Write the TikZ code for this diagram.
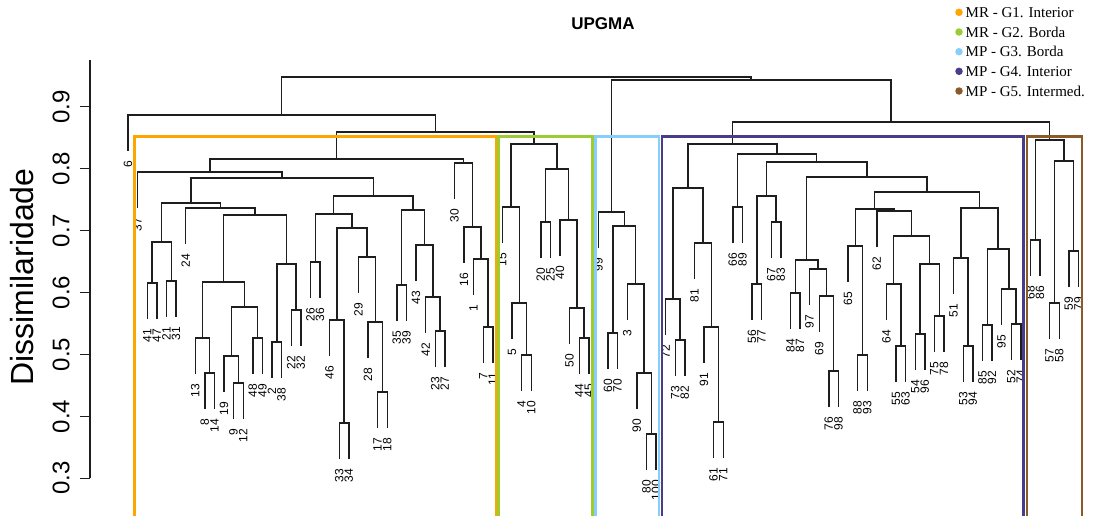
\documentclass[tikz,border=0pt]{standalone}
\usepackage{fontspec}
\setmainfont{Liberation Serif}
\setsansfont{Liberation Sans}
\usetikzlibrary{calc}
\definecolor{GOrange}{RGB}{255,165,0}
\definecolor{GGreen}{RGB}{154,205,50}
\definecolor{GBlue}{RGB}{135,206,250}
\definecolor{GPurple}{RGB}{72,61,139}
\definecolor{GBrown}{RGB}{139,90,43}
\definecolor{TreeGray}{RGB}{30,30,30}
\tikzset{
  branch/.style={draw=TreeGray,line width=1.4pt},
  leaflab/.style={rotate=90,anchor=east,inner sep=0pt,
    font=\sffamily\fontsize{12}{12}\selectfont},
  ticklab/.style={rotate=90,inner sep=0pt,
    font=\sffamily\fontsize{24}{24}\selectfont},
  axislab/.style={rotate=90,inner sep=0pt,
    font=\sffamily\fontsize{32}{32}\selectfont},
  groupbox/.style={line width=2.2pt},
  legdot/.style={circle,inner sep=0pt,minimum size=7.5pt},
  legtext/.style={anchor=west,inner sep=0pt,font=\fontsize{15}{15}\selectfont}
}
\newcommand\mrg[4]{%
  \coordinate (h#3) at (0,#4);
  \path (#1) -- (#2) coordinate[pos=.5] (c#3);
  \coordinate (#3) at (c#3 |- h#3);
  \draw[branch] (#1) |- (#3) -| (#2);}

\begin{document}
\begin{tikzpicture}[x=1pt,y=-1pt]
  \useasboundingbox[fill=white] (0,0) rectangle (1094,515);
  \node[font=\sffamily\bfseries\fontsize{17}{17}\selectfont] (title) at (603,24) {UPGMA};
  \node[axislab] (ylab) at (22.5,277) {Dissimilaridade};
  \draw[branch] (90,60) -- (90,478.3);
  \foreach \k/\v/\yy in {3/0.3/478.3,4/0.4/416.4,5/0.5/354.4,6/0.6/292.5,
      7/0.7/230.6,8/0.8/168.6,9/0.9/106.7} {
    \draw[branch] (90,\yy) -- (80,\yy);
    \node[ticklab] (tk\k) at (61,\yy) {\v};
  }
  \foreach \i/\lab/\py in {
      0/6/115, 1/37/172, 2/41/283, 3/47/283, 4/21/281, 5/31/281, 6/24/208,
      7/13/338, 8/8/373, 9/14/373, 10/19/356, 11/9/383, 12/12/383, 13/48/338,
      14/49/338, 15/2/342, 16/38/342, 17/22/310, 18/32/310, 19/26/262,
      20/36/262, 21/46/320, 22/33/423, 23/34/423, 24/29/257, 25/28/322,
      26/17/392, 27/18/392, 28/35/285, 29/39/285, 30/43/245, 31/42/297,
      32/23/331, 33/27/331, 34/30/163, 35/16/227, 36/1/259, 37/7/327,
      38/11/327, 39/15/207, 40/5/303, 41/4/355, 42/10/355, 43/20/222,
      44/25/222, 45/40/220, 46/50/308, 47/44/338, 48/45/338, 49/99/212,
      50/60/333, 51/70/333, 52/3/284, 53/90/373, 54/80/434, 55/100/434,
      56/72/299, 57/73/340, 58/82/340, 59/81/243, 60/91/327, 61/61/422,
      62/71/422, 63/66/207, 64/89/207, 65/56/284, 66/77/284, 67/67/222,
      68/83/222, 69/84/293, 70/87/293, 71/97/269, 72/69/296, 73/76/371,
      74/98/371, 75/65/246, 76/88/355, 77/93/355, 78/62/211, 79/64/284,
      80/55/346, 81/63/346, 82/54/334, 83/96/334, 84/75/316, 85/78/316,
      86/51/258, 87/53/346, 88/94/346, 89/85/325, 90/92/325, 91/95/289,
      92/52/324, 93/74/324, 94/68/240, 95/86/240, 96/57/303, 97/58/303,
      98/59/251, 99/79/251} {
    \coordinate (l\lab) at ({128+9.6*\i},{\py+36});
    \node[leaflab] (t\lab) at ([yshift=-10pt]l\lab) {\lab};
  }
  \foreach \pa/\pb/\pn/\ph in {
      l41/l47/m1/283, l21/l31/m2/281, m1/m2/m3/242, l8/l14/m4/373,
      l13/m4/m5/338, l9/l12/m6/383, l19/m6/m7/356, l48/l49/m8/338,
      m7/m8/m9/307, m5/m9/m10/282, l2/l38/m11/342, l22/l32/m12/310,
      m11/m12/m13/264, m10/m13/m14/215, l24/m14/m15/208, m3/m15/m16/203,
      l26/l36/m17/262, l33/l34/m18/423, l46/m18/m19/320, l17/l18/m20/392,
      l28/m20/m21/322, l29/m21/m22/257, m19/m22/m23/228, m17/m23/m24/214,
      l35/l39/m25/285, l23/l27/m26/331, l42/m26/m27/297, l43/m27/m28/245,
      m25/m28/m29/210, m24/m29/m30/196, m16/m30/m31/178, l37/m31/m32/172,
      l7/l11/m33/327, l1/m33/m34/259, l16/m34/m35/227, l30/m35/m36/163,
      m32/m36/m37/159,
      l4/l10/m38/355, l5/m38/m39/303, l15/m39/m40/207, l20/l25/m41/222,
      l44/l45/m42/338, l50/m42/m43/308, l40/m43/m44/220, m41/m44/m45/169,
      m40/m45/m46/144, m37/m46/m47/132, l6/m47/m48/115,
      l60/l70/m49/333, l80/l100/m50/434, l90/m50/m51/373, l3/m51/m52/284,
      m49/m52/m53/226, l99/m53/m54/212,
      l73/l82/m55/340, l72/m55/m56/299, l61/l71/m57/422, l91/m57/m58/327,
      l81/m58/m59/243, m56/m59/m60/188, l66/l89/m61/207, l56/l77/m62/284,
      l67/l83/m63/222, m62/m63/m64/196, l84/l87/m65/293, l76/l98/m66/371,
      l69/m66/m67/296, l97/m67/m68/269, m65/m68/m69/260, l88/l93/m70/355,
      l65/m70/m71/246, l55/l63/m72/346, l64/m72/m73/284, l54/l96/m74/334,
      l75/l78/m75/316, m74/m75/m76/264, m73/m76/m77/236, l62/m77/m78/211,
      m71/m78/m79/209, l53/l94/m80/346, l51/m80/m81/258, l85/l92/m82/325,
      l52/l74/m83/324, l95/m83/m84/289, m82/m84/m85/249, m81/m85/m86/208,
      m79/m86/m87/192, m69/m87/m88/177, m64/m88/m89/162, m61/m89/m90/154,
      m60/m90/m91/144,
      l68/l86/m92/240, l57/l58/m93/303, l59/l79/m94/251, m93/m94/m95/161,
      m92/m95/m96/140, m91/m96/m97/122, m54/m97/m98/80, m48/m98/m99/77} {
    \mrg{\pa}{\pb}{\pn}{\ph}
  }
  \draw[groupbox,GOrange,line width=2.6pt] (134.3,136.5) rectangle (496,530);
  \draw[groupbox,GGreen] (498.5,136.5) rectangle (592.5,530);
  \draw[groupbox,GBlue] (595.5,136.5) rectangle (659.3,530);
  \draw[groupbox,GPurple] (662.3,136.5) rectangle (1023.5,530);
  \draw[groupbox,GBrown] (1026.8,136.5) rectangle (1082.3,530);
  \node[legdot,fill=GOrange] (d1) at (959,12.3) {};
  \node[legdot,fill=GGreen] (d2) at (959,32) {};
  \node[legdot,fill=GBlue] (d3) at (959,51.7) {};
  \node[legdot,fill=GPurple] (d4) at (959,71.3) {};
  \node[legdot,fill=GBrown] (d5) at (959,91) {};
  \node[legtext] (e1) at (965.5,12.3) {MR - G1. Interior};
  \node[legtext] (e2) at (965.5,32) {MR - G2. Borda};
  \node[legtext] (e3) at (965.5,51.7) {MP - G3. Borda};
  \node[legtext] (e4) at (965.5,71.3) {MP - G4. Interior};
  \node[legtext] (e5) at (965.5,91) {MP - G5. Intermed.};
\end{tikzpicture}
\end{document}
